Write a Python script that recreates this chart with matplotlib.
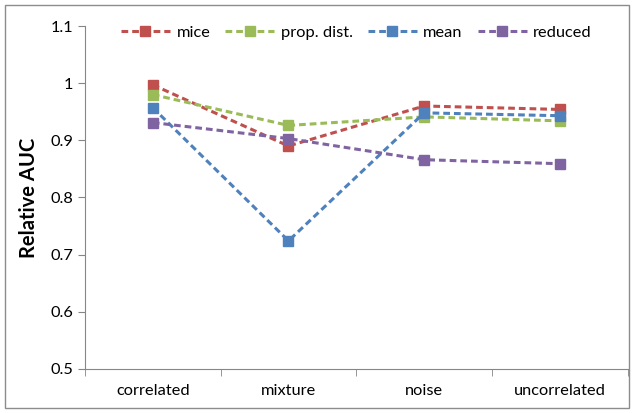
import numpy as np
import matplotlib.pyplot as plt
from matplotlib.ticker import FixedLocator, NullFormatter

categories = ['correlated', 'mixture', 'noise', 'uncorrelated']
mice = [0.997, 0.890, 0.960, 0.954]
prop_dist = [0.980, 0.926, 0.941, 0.934]
mean = [0.957, 0.724, 0.948, 0.943]
reduced = [0.931, 0.903, 0.866, 0.859]

series = [('mice', mice, '#C0504D'),
          ('prop. dist.', prop_dist, '#9BBB59'),
          ('mean', mean, '#4F81BD'),
          ('reduced', reduced, '#8064A2')]

plt.rcParams['font.family'] = ['Lato', 'DejaVu Sans']

fig = plt.figure(figsize=(6.34, 4.13), dpi=100)
ax = fig.add_axes([0.134, 0.107, 0.856, 0.830])

# frame around whole chart
fig.patches.append(plt.Rectangle((0.008, 0.012), 0.984, 0.976, transform=fig.transFigure,
                                 fill=False, edgecolor='#8c8c8c', linewidth=1))

x = np.arange(len(categories))
for name, vals, col in series:
    ax.plot(x, vals, linestyle=(0, (2.2, 1.3)), color=col, linewidth=2.2,
            marker='s', markersize=6.5, markeredgecolor=col, label=name)

ax.set_xlim(-0.5, len(categories) - 0.5)
ax.set_ylim(0.5, 1.1)
ax.set_yticks(np.arange(0.5, 1.11, 0.1))
ax.set_yticklabels(['0.5', '0.6', '0.7', '0.8', '0.9', '1', '1.1'])
ax.set_xticks(x)
ax.set_xticklabels(categories)
ax.xaxis.set_minor_locator(FixedLocator(np.arange(-0.5, len(categories), 1.0)))
ax.xaxis.set_minor_formatter(NullFormatter())
ax.tick_params(axis='x', which='major', length=0, pad=11, labelsize=11.8)
ax.tick_params(axis='x', which='minor', length=5, color='#868686', direction='out')
ax.tick_params(axis='y', length=5, color='#868686', direction='out', labelsize=11.8)

for s in ['top', 'right']:
    ax.spines[s].set_visible(False)
for s in ['left', 'bottom']:
    ax.spines[s].set_color('#868686')

ax.set_ylabel('Relative AUC', fontsize=14.5, fontweight='bold', labelpad=8)

ax.legend(loc='upper center', bbox_to_anchor=(0.5, 1.045), ncol=4, frameon=False,
          fontsize=11.8, handlelength=3.0, columnspacing=0.9, handletextpad=0.4)

fig.savefig('out.png', dpi=100)
